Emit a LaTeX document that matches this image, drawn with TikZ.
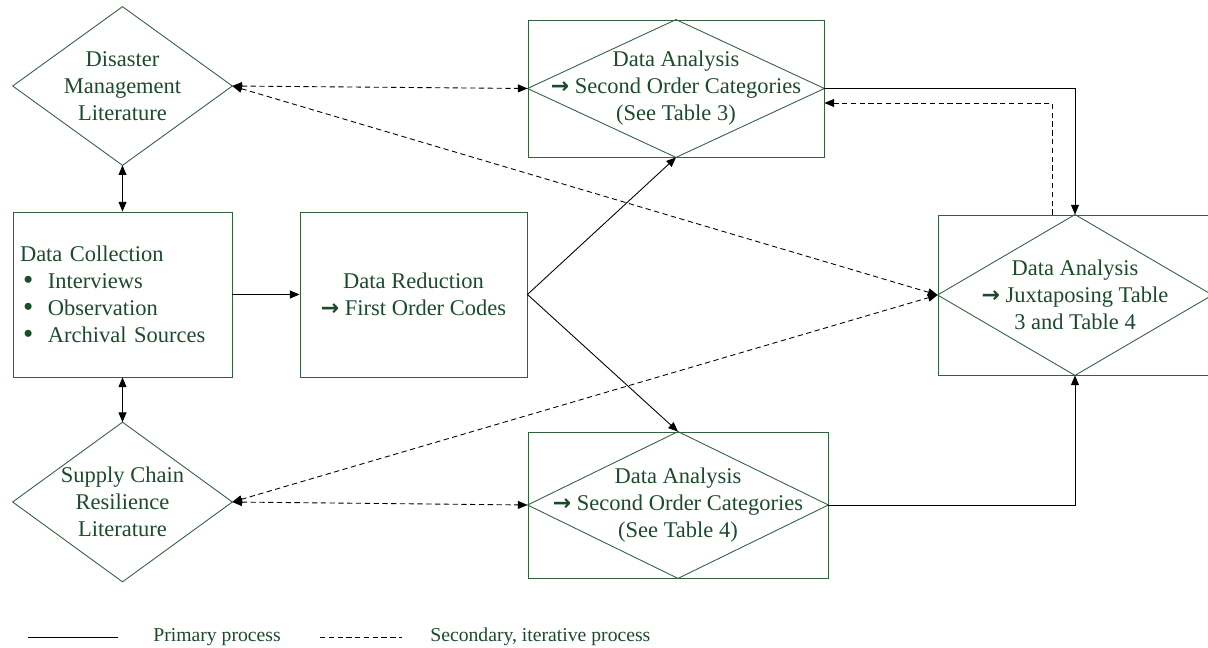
\documentclass[tikz,border=0pt]{standalone}
\usepackage{fontspec}
\setmainfont{Liberation Serif}
\newfontfamily\symfont{DejaVu Sans}
\usetikzlibrary{arrows.meta,calc}
\definecolor{dkgreen}{RGB}{28,74,44}
\definecolor{edgegreen}{RGB}{52,96,64}
\newcommand{\toarr}{{\symfont\bfseries\fontsize{12.5}{13}\selectfont →}}
\newcommand{\bul}{\hspace*{1.7pt}\makebox[14.2pt][l]{\raisebox{-0.6pt}{\smash{\scalebox{1.3}{\textbullet}}}}}

\begin{document}
\begin{tikzpicture}[
  x=0.02cm, y=-0.02cm,
  font=\fontsize{12.8}{15.4}\selectfont, text=dkgreen,
  box/.style={draw=edgegreen, line width=0.5pt, align=center, inner sep=0pt},
  hid/.style={align=center, inner sep=0pt},
  shp/.style={draw=edgegreen, line width=0.5pt},
  arr/.style={-{Triangle[length=5.5pt,width=4.5pt]}, line width=0.5pt},
  twoway/.style={{Triangle[length=5.5pt,width=4.5pt]}-{Triangle[length=5.5pt,width=4.5pt]}, line width=0.5pt},
  dsh/.style={dash pattern=on 3pt off 2pt},
  legend/.style={font=\fontsize{11.2}{13}\selectfont, anchor=west, inner sep=0pt}
]
\useasboundingbox (0,0) rectangle (1208,648);

% literature
\node[hid, minimum width=4.38cm, minimum height=3.16cm] (dml) at (122.5,86)
  {Disaster\\ Management\\ Literature};
\node[hid, minimum width=4.38cm, minimum height=3.18cm] (scr) at (122.5,502)
  {Supply Chain\\ Resilience\\ Literature};

% process
\node[box, align=left, text width=4.1cm, inner xsep=0.14cm,
      minimum width=4.38cm, minimum height=3.3cm] (dc) at (122.5,294.5)
  {Data Collection\\
   \bul Interviews\\
   \bul Observation\\
   \bul Archival Sources};
\node[box, minimum width=4.54cm, minimum height=3.3cm] (dr) at (413.5,294.5)
  {Data Reduction\\ \toarr\ First Order Codes};
\node[box, minimum width=5.92cm, minimum height=2.74cm] (da3) at (676,88.5)
  {Data Analysis\\ \toarr\ Second Order Categories\\ (See Table 3)};
\node[box, minimum width=6.0cm, minimum height=2.92cm] (da4) at (678,505)
  {Data Analysis\\ \toarr\ Second Order Categories\\ (See Table 4)};
\node[box, minimum width=5.48cm, minimum height=3.2cm] (daj) at (1075,295)
  {Data Analysis\\ \toarr\ Juxtaposing Table\\ 3 and Table 4};

\foreach \n in {dml,scr,da3,da4,daj}
  \draw[shp] (\n.north) -- (\n.east) -- (\n.south) -- (\n.west) -- cycle;

% primary
\draw[twoway] (dml.south) -- (dc.north);
\draw[twoway] (dc.south) -- (scr.north);
\draw[arr] (dc.east) -- (dr.west);
\draw[arr] (dr.east) -- (da3.south);
\draw[arr] (dr.east) -- (da4.north);
\draw[arr] (da3.east) -| (daj.north);
\draw[arr] (da4.east) -| (daj.south);

% secondary
\draw[arr, dsh] ($(daj.north)+(-23,0)$) |- ($(da3.east)+(0,14.5)$);
\draw[twoway, dsh] (dml.east) -- (da3.west);
\draw[twoway, dsh] (dml.east) -- (daj.west);
\draw[twoway, dsh] (scr.east) -- (daj.west);
\draw[twoway, dsh] (scr.east) -- (da4.west);

% legend
\coordinate (p1) at (28,637);
\coordinate (p2) at (118,637);
\coordinate (s1) at (320,637);
\coordinate (s2) at (402,637);
\draw[line width=0.5pt] (p1) -- (p2);
\draw[line width=0.5pt, dsh] (s1) -- (s2);
\node[legend] (prim) at (153,637) {Primary process};
\node[legend] (sec) at (430,637) {Secondary, iterative process};
\end{tikzpicture}
\end{document}
